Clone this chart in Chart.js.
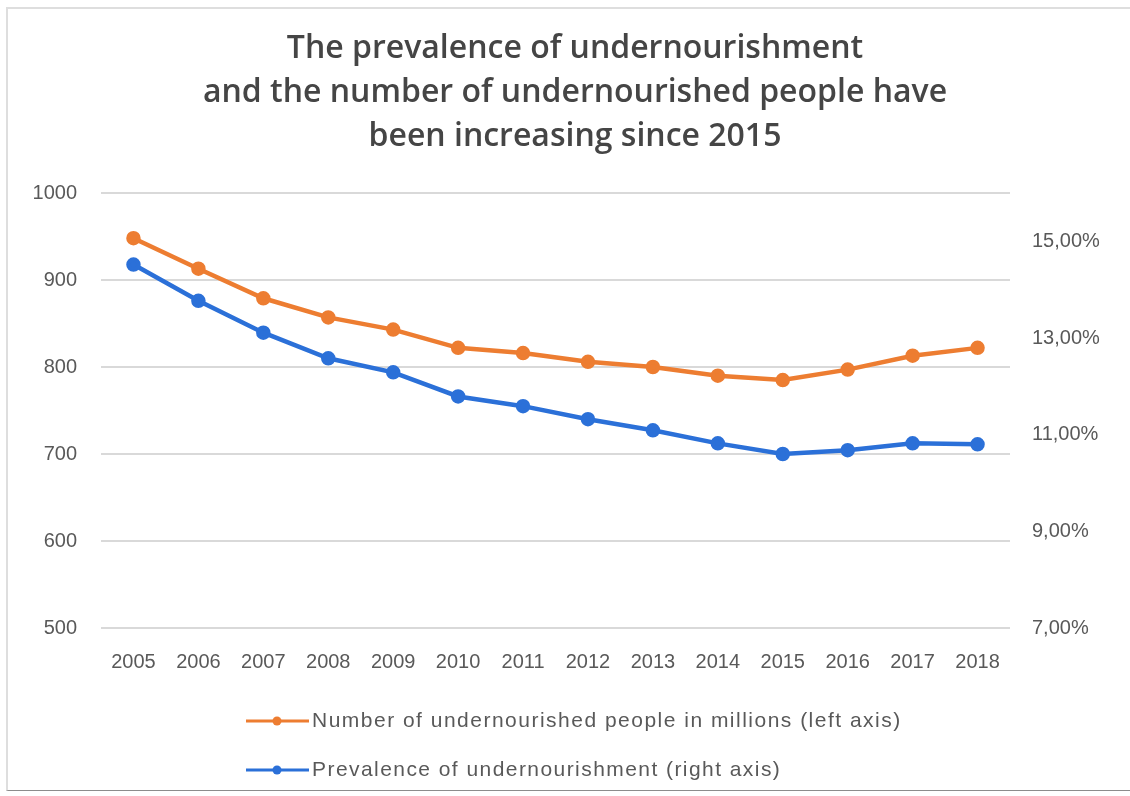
<!DOCTYPE html>
<html>
<head>
<meta charset="utf-8">
<script src="https://cdn.jsdelivr.net/npm/chart.js@4"></script>
<style>
  html, body { margin: 0; padding: 0; background: #fff; }
  #wrap { position: relative; width: 1130px; height: 796px; overflow: hidden; }
  #frame { position: absolute; left: 6px; top: 7px; width: 1200px; height: 781px;
           border-top: 2px solid #dedede; border-left: 2px solid #dedede; border-bottom: 1px solid #8c8c8c; }
  canvas { position: absolute; left: 0; top: 0; }
</style>
</head>
<body>
<div id="wrap">
  <div id="frame"></div>
  <canvas id="chart" width="1130" height="796"></canvas>
</div>
<script>
'use strict';

// data
const years = ['2005', '2006', '2007', '2008', '2009', '2010', '2011',
               '2012', '2013', '2014', '2015', '2016', '2017', '2018'];
const undernourishedMillions = [948, 913, 879, 857, 843, 822, 816, 806, 800, 790, 785, 797, 813, 822];
const prevalencePct = [14.52, 13.77, 13.11, 12.58, 12.29, 11.79, 11.59, 11.32, 11.09, 10.82, 10.60, 10.68, 10.82, 10.80];
const rightTicks = [7, 9, 11, 13, 15];
const titleLines = ['The prevalence of undernourishment',
                    'and the number of undernourished people have',
                    'been increasing since 2015'];
const legendLabels = ['Number of undernourished people in millions (left axis)',
                      'Prevalence of undernourishment (right axis)'];

const ORANGE = '#ED7D31';
const BLUE = '#2B70D8';
const TICK_COLOR = '#595959';
const TICK_FONT = { family: "'Liberation Sans', Arial, sans-serif", size: 20 };

// legend under the axis, one entry per row, stretched to the reference widths
const rowLegend = {
    id: 'rowLegend',
    afterDraw(chart) {
        const ctx = chart.ctx;
        const rows = [721, 770];
        const textWidths = [588, 468];
        chart.data.datasets.forEach((ds, i) => {
            const y = rows[i];
            ctx.save();
            ctx.strokeStyle = ds.borderColor;
            ctx.lineWidth = 3;
            ctx.beginPath();
            ctx.moveTo(246, y);
            ctx.lineTo(309, y);
            ctx.stroke();
            ctx.fillStyle = ds.borderColor;
            ctx.beginPath();
            ctx.arc(277, y, 4.5, 0, Math.PI * 2);
            ctx.fill();
            ctx.fillStyle = TICK_COLOR;
            ctx.font = "21px 'Liberation Sans', Arial, sans-serif";
            ctx.textBaseline = 'middle';
            const text = legendLabels[i];
            const w = ctx.measureText(text).width;
            const spacing = Math.max(0, (textWidths[i] - w) / (text.length - 1));
            ctx.letterSpacing = spacing.toFixed(2) + 'px';
            ctx.fillText(text, 312, y);
            ctx.restore();
        });
    }
};

new Chart(document.getElementById('chart').getContext('2d'), {
    type: 'line',
    data: {
        labels: years,
        datasets: [{
            label: legendLabels[0],
            data: undernourishedMillions,
            yAxisID: 'y',
            borderColor: ORANGE,
            backgroundColor: ORANGE,
            borderWidth: 4.5,
            pointRadius: 5,
            tension: 0
        }, {
            label: legendLabels[1],
            data: prevalencePct,
            yAxisID: 'y1',
            borderColor: BLUE,
            backgroundColor: BLUE,
            borderWidth: 4.5,
            pointRadius: 5,
            tension: 0
        }]
    },
    options: {
        responsive: false,
        animation: false,
        layout: { padding: { top: 10, left: 20, right: 0, bottom: 108 } },
        plugins: {
            legend: { display: false },
            tooltip: { enabled: false },
            title: {
                display: true,
                text: titleLines,
                color: '#454545',
                font: { family: "'Open Sans', Lato, sans-serif", size: 32, weight: 600, lineHeight: 1.375 },
                padding: { top: 17, bottom: 34 }
            }
        },
        scales: {
            x: {
                offset: true,
                grid: { display: false, drawTicks: false },
                border: { display: false },
                ticks: { color: TICK_COLOR, font: TICK_FONT, padding: 22, maxRotation: 0 },
                afterFit(axis) { axis.height = 60; }
            },
            y: {
                position: 'left',
                min: 500,
                max: 1000,
                grid: { color: '#d9d9d9', lineWidth: 2, drawTicks: false },
                border: { display: false },
                ticks: { stepSize: 100, color: TICK_COLOR, font: TICK_FONT, padding: 24, callback: v => String(v) },
                afterFit(axis) { axis.width = 81; }
            },
            y1: {
                position: 'right',
                min: 7,
                max: 16,
                grid: { display: false, drawTicks: false },
                border: { display: false },
                ticks: {
                    color: TICK_COLOR,
                    font: TICK_FONT,
                    padding: 22,
                    callback: v => v.toFixed(2).replace('.', ',') + '%'
                },
                afterBuildTicks(axis) { axis.ticks = rightTicks.map(v => ({ value: v })); },
                afterFit(axis) { axis.width = 120; }
            }
        }
    },
    plugins: [rowLegend]
});
</script>
</body>
</html>
